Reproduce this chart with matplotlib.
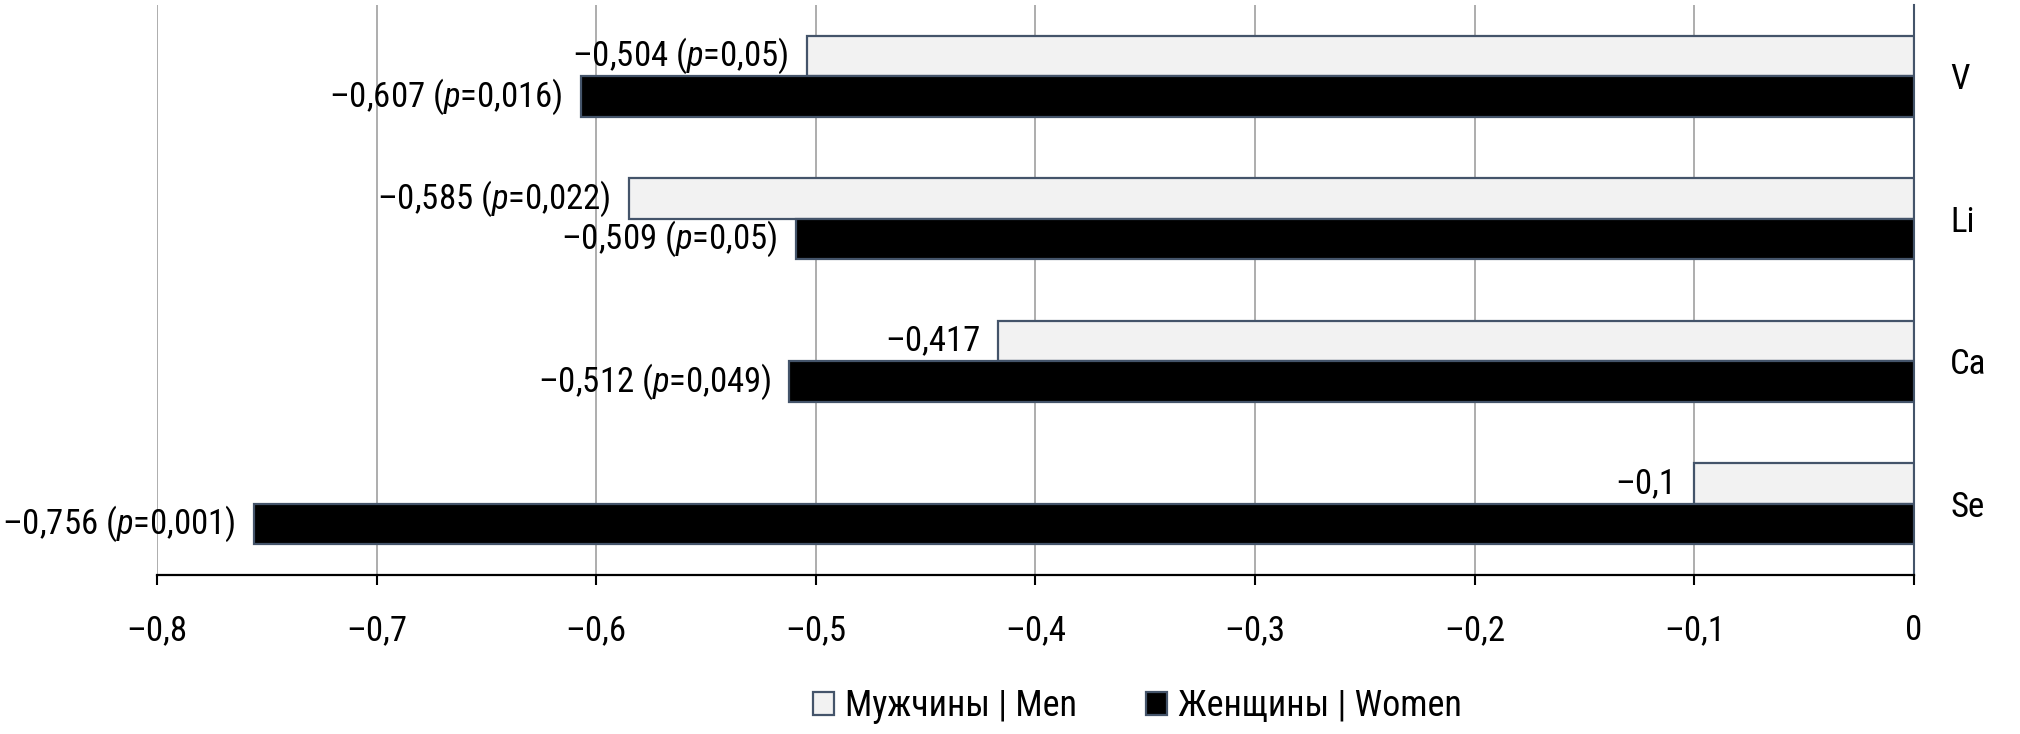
import numpy as np
import matplotlib
matplotlib.use("Agg")
import matplotlib.pyplot as plt
from matplotlib import font_manager

# try to find a narrow font like the Arial Narrow in the original
fl = font_manager.fontManager.ttflist
names = {f.name for f in fl}
fam, stretch = "Liberation Sans", "normal"
for n in ["Liberation Sans Narrow", "Arial Narrow", "Roboto Condensed", "Open Sans Condensed",
          "Noto Sans Condensed", "DejaVu Sans Condensed"]:
    if n in names:
        fam = n
        break
else:
    cond = [f for f in fl if str(f.stretch) in ("condensed", "semi-condensed", "extra-condensed")
            and f.style == "normal" and "Sans" in f.name]
    if cond:
        fam, stretch = cond[0].name, str(cond[0].stretch)

plt.rcParams['font.family'] = [fam, 'DejaVu Sans']
plt.rcParams['font.stretch'] = stretch
plt.rcParams['mathtext.fontset'] = 'custom'
plt.rcParams['mathtext.rm'] = fam
plt.rcParams['mathtext.it'] = fam + ':italic' + ('' if stretch == 'normal' else ':stretch=' + stretch)

# data
elements = ["V", "Li", "Ca", "Se"]
men = [-0.504, -0.585, -0.417, -0.1]
women = [-0.607, -0.509, -0.512, -0.756]
men_p = ["0,05", "0,022", None, None]
women_p = ["0,016", "0,05", "0,049", "0,001"]
xticks = [-0.8, -0.7, -0.6, -0.5, -0.4, -0.3, -0.2, -0.1, 0]
xticklabels = ["–0,8", "–0,7", "–0,6", "–0,5", "–0,4", "–0,3", "–0,2", "–0,1", "0"]

edge = "#44546A"
fs = 25 if (fam != "Liberation Sans") else 22.5

def lab(v, p):
    s = "–" + ("%g" % abs(v)).replace(".", ",")
    if p is not None:
        s += " ($\\mathit{p}$=" + p + ")"
    return s

fig = plt.figure(figsize=(20.2, 7.34), dpi=100)
ax = fig.add_axes([0.0777, 0.2166, 0.8698, 0.7766])

y = np.arange(len(elements))
h = 0.285
b1 = ax.barh(y - h / 2, men, height=h, color="#F2F2F2", edgecolor=edge, linewidth=1.6,
             label="Мужчины | Men", zorder=3)
b2 = ax.barh(y + h / 2, women, height=h, color="black", edgecolor=edge, linewidth=1.6,
             label="Женщины | Women", zorder=3)

for i in range(len(elements)):
    ax.annotate(lab(men[i], men_p[i]), (men[i], y[i] - h / 2), xytext=(-13, 0),
                textcoords="offset points", ha="right", va="center", fontsize=fs, zorder=4)
    ax.annotate(lab(women[i], women_p[i]), (women[i], y[i] + h / 2), xytext=(-13, 0),
                textcoords="offset points", ha="right", va="center", fontsize=fs, zorder=4)

ax.set_xlim(-0.8, 0)
ax.set_ylim(3.5, -0.5)
ax.set_xticks(xticks)
ax.set_xticklabels(xticklabels, fontsize=fs)
ax.set_yticks(y)
ax.set_yticklabels(elements, fontsize=fs)
ax.yaxis.tick_right()
ax.tick_params(axis="y", length=0, pad=26)
ax.tick_params(axis="x", length=7, width=1.5, pad=21, color="black")

ax.grid(axis="x", color="#A0A0A0", linewidth=1.2, zorder=0)
ax.spines["top"].set_visible(False)
ax.spines["left"].set_visible(False)
ax.spines["right"].set_color(edge)
ax.spines["right"].set_linewidth(1.5)
ax.spines["bottom"].set_linewidth(1.6)
ax.spines["bottom"].set_zorder(5)

fig.legend(handles=[b1, b2], loc="center", bbox_to_anchor=(0.563, 0.038), ncol=2,
           frameon=False, fontsize=fs + 1, handlelength=0.6, handleheight=0.6,
           handletextpad=0.3, columnspacing=1.9)

fig.savefig("out.png", dpi=100)
